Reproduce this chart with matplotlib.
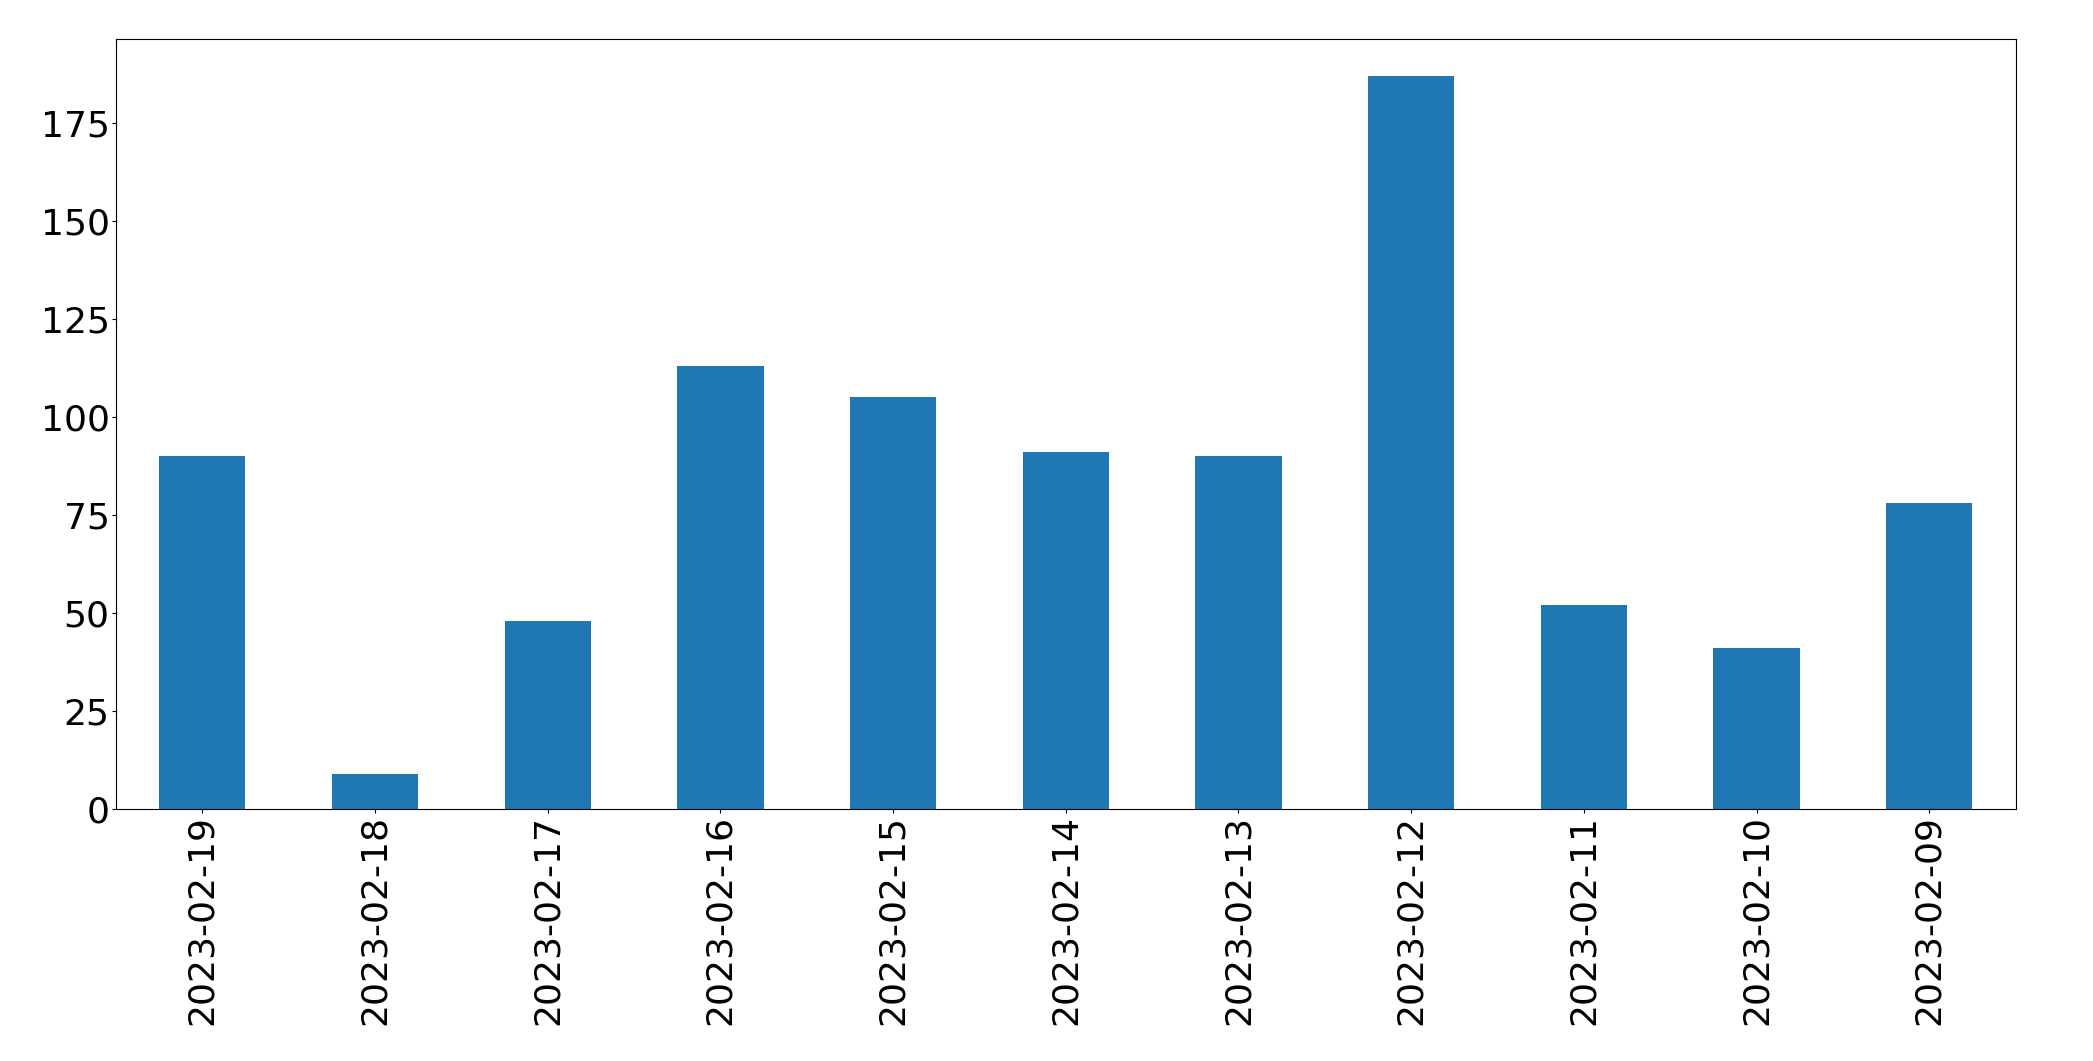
import matplotlib
matplotlib.use("Agg")
import matplotlib.pyplot as plt
import numpy as np

dates = ["2023-02-19", "2023-02-18", "2023-02-17", "2023-02-16", "2023-02-15",
         "2023-02-14", "2023-02-13", "2023-02-12", "2023-02-11", "2023-02-10",
         "2023-02-09"]
counts = [90, 9, 48, 113, 105, 91, 90, 187, 52, 41, 78]

fig = plt.figure(figsize=(20.93, 10.61), dpi=100)
ax = fig.add_axes([0.0554, 0.2375, 0.9076, 0.7255])
x = np.arange(len(dates))
ax.bar(x, counts, width=0.5, color="#1f77b4")
ax.set_xlim(-0.5, len(dates) - 0.5)
ax.set_xticks(x)
ax.set_xticklabels(dates, rotation=90)
ax.tick_params(axis="both", labelsize=26, length=3, pad=1.5)
fig.savefig("out.png", dpi=100)
